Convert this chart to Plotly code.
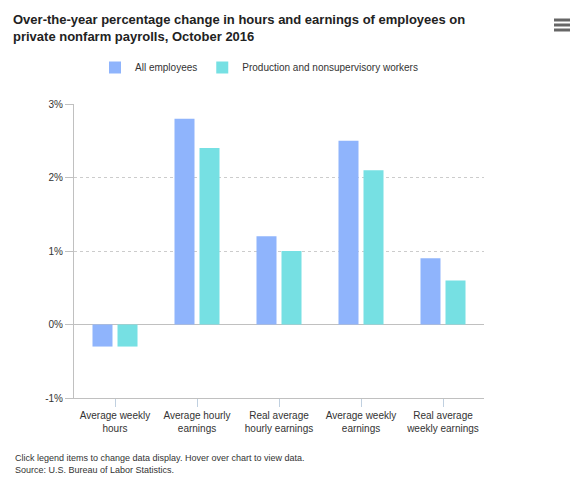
import plotly.graph_objects as go

categories = ["Average weekly<br>hours", "Average hourly<br>earnings",
              "Real average<br>hourly earnings", "Average weekly<br>earnings",
              "Real average<br>weekly earnings"]
all_employees = [-0.3, 2.8, 1.2, 2.5, 0.9]
production = [-0.3, 2.4, 1.0, 2.1, 0.6]
tick_vals = [-1, 0, 1, 2, 3]
tick_text = ["-1%", "0%", "1%", "2%", "3%"]

# the page body has an 8px margin, so the figure is sized/shifted for it
W, H = 579, 477
L, R, T, B = 66, 476, 96, 390   # plot area in figure pixels
PW, PH = R - L, B - T


def px(x):
    return (x - L) / PW


def py(y):
    return (B - y) / PH


fig = go.Figure()
fig.add_trace(go.Bar(x=categories, y=all_employees, name="All employees",
                     marker=dict(color="#8fb4fc", line=dict(width=0))))
fig.add_trace(go.Bar(x=categories, y=production, name="Production and nonsupervisory workers",
                     marker=dict(color="#76e0e3", line=dict(width=0))))

fig.update_layout(
    width=W, height=H,
    margin=dict(l=L, r=W - R, t=T, b=H - B),
    paper_bgcolor="white", plot_bgcolor="white",
    barmode="group", bargap=0.39, bargroupgap=0.2,
    font=dict(family="Liberation Sans, Arial, sans-serif", size=10, color="#333333"),
    title=dict(text="<b>Over-the-year percentage change in hours and earnings of employees on<br>private nonfarm payrolls, October 2016</b>",
               x=5 / W, xanchor="left", y=1 - 16 / H, yanchor="top",
               font=dict(size=13, color="#222222")),
    legend=dict(orientation="h", x=px(87), xanchor="left", y=1 - 45 / H, yanchor="top",
                yref="container", font=dict(size=10, color="#333333"),
                tracegroupgap=0),
    showlegend=True,
    xaxis=dict(showline=True, linecolor="#c0c0c0", linewidth=1, ticks="outside",
               tickcolor="#c0d0e0", ticklen=8, showgrid=False,
               tickfont=dict(size=10, color="#333333")),
    yaxis=dict(range=[-1, 3], tickvals=tick_vals, ticktext=tick_text,
               showline=True, linecolor="#c0c0c0", linewidth=1,
               ticks="outside", ticklen=8, tickcolor="#c0c0c0",
               showgrid=True, gridcolor="#cccccc", griddash="dot", gridwidth=1,
               zeroline=True, zerolinecolor="#c0c0c0", zerolinewidth=1,
               tickfont=dict(size=10, color="#333333")),
    annotations=[dict(text="Click legend items to change data display. Hover over chart to view data.<br>Source: U.S. Bureau of Labor Statistics.",
                      xref="paper", yref="paper", x=px(5), y=py(443),
                      xanchor="left", yanchor="top", showarrow=False, align="left",
                      font=dict(size=9, color="#333333"))],
)

# export menu icon
for yy in [12, 17, 22]:
    fig.add_shape(type="line", xref="paper", yref="paper",
                  x0=px(546), x1=px(562), y0=py(yy), y1=py(yy),
                  line=dict(color="#666666", width=3))

fig.write_html("out.html")
